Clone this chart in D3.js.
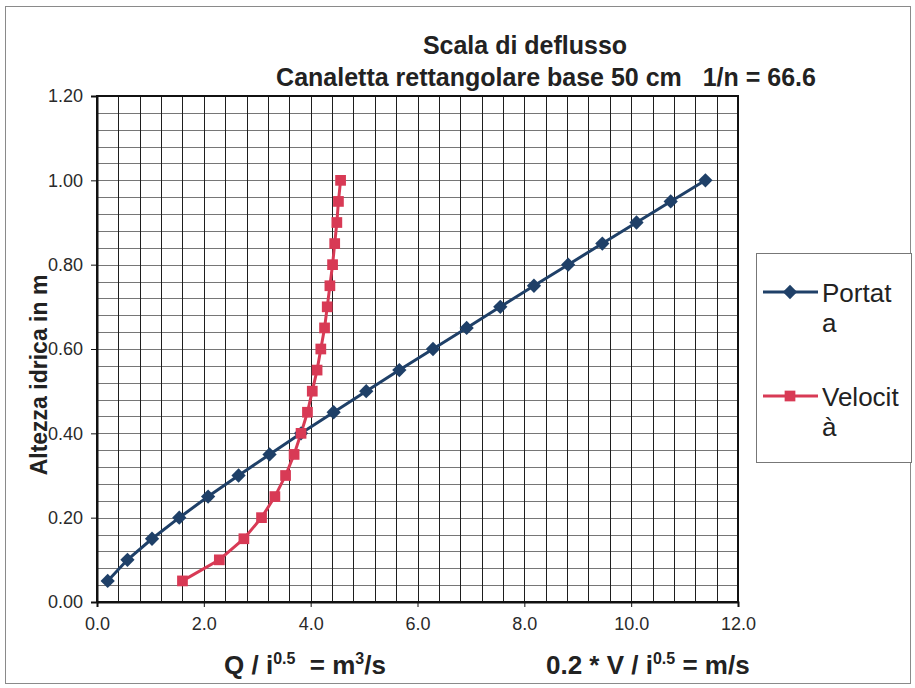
<!DOCTYPE html>
<html>
<head>
<meta charset="utf-8">
<script src="https://cdn.jsdelivr.net/npm/d3@7"></script>
<style>
  body { margin: 0; background: #fff; }
  text { font-family: "Liberation Sans", Arial, sans-serif; }
</style>
</head>
<body>
<svg id="chart" width="915" height="688"></svg>
<script>
// water depth (m)
const altezze = [0.05, 0.10, 0.15, 0.20, 0.25, 0.30, 0.35, 0.40, 0.45, 0.50,
                 0.55, 0.60, 0.65, 0.70, 0.75, 0.80, 0.85, 0.90, 0.95, 1.00];
// Q / i^0.5
const portata = [0.20, 0.57, 1.03, 1.54, 2.08, 2.65, 3.23, 3.82, 4.43, 5.04,
                 5.66, 6.29, 6.92, 7.55, 8.18, 8.82, 9.46, 10.10, 10.74, 11.39];
// 0.2 * V / i^0.5
const velocita = [1.60, 2.29, 2.75, 3.08, 3.33, 3.53, 3.69, 3.82, 3.94, 4.03,
                  4.12, 4.19, 4.26, 4.31, 4.36, 4.41, 4.45, 4.49, 4.52, 4.56];

const xTicks = [0, 2, 4, 6, 8, 10, 12];
const yTicks = [0, 0.2, 0.4, 0.6, 0.8, 1.0, 1.2];
const seriesNames = ["Portat\na", "Velocit\nà"];

const svg = d3.select("#chart");
const plotLeft = 97, plotRight = 738, plotTop = 96, plotBottom = 602;

const blue = "#1f4068";
const red = "#d83a55";

// outer frame
svg.append("rect")
  .attr("x", 5.5).attr("y", 6.5)
  .attr("width", 905).attr("height", 677)
  .attr("fill", "none")
  .attr("stroke", "#8a8a8a");

const x = d3.scaleLinear().domain([0, 12]).range([plotLeft, plotRight]);
const y = d3.scaleLinear().domain([0, 1.2]).range([plotBottom, plotTop]);

// grid: x every 0.4, y every 0.04
const g = svg.append("g");
g.selectAll(".hgrid")
  .data(d3.range(1, 30))
  .enter().append("line")
  .attr("x1", plotLeft).attr("x2", plotRight)
  .attr("y1", d => Math.round(y(d * 0.04)) + 0.5)
  .attr("y2", d => Math.round(y(d * 0.04)) + 0.5)
  .attr("stroke", "#767676")
  .attr("stroke-width", 1);

g.selectAll(".vgrid")
  .data(d3.range(1, 30))
  .enter().append("line")
  .attr("y1", plotTop).attr("y2", plotBottom)
  .attr("x1", d => Math.round(x(d * 0.4)) + 0.5)
  .attr("x2", d => Math.round(x(d * 0.4)) + 0.5)
  .attr("stroke", "#1e1e1e")
  .attr("stroke-width", 1);

// plot frame
svg.append("rect")
  .attr("x", plotLeft).attr("y", plotTop)
  .attr("width", plotRight - plotLeft).attr("height", plotBottom - plotTop)
  .attr("fill", "none")
  .attr("stroke", "#111")
  .attr("stroke-width", 2);

// axes
const xAxis = d3.axisBottom(x)
  .tickValues(xTicks)
  .tickFormat(d3.format(".1f"))
  .tickSize(5)
  .tickPadding(10);

const yAxis = d3.axisLeft(y)
  .tickValues(yTicks)
  .tickFormat(d3.format(".2f"))
  .tickSize(6)
  .tickPadding(8);

const gx = svg.append("g")
  .attr("transform", "translate(0," + plotBottom + ")")
  .call(xAxis);
const gy = svg.append("g")
  .attr("transform", "translate(" + plotLeft + ",0)")
  .call(yAxis);

[gx, gy].forEach(a => {
  a.select(".domain").attr("stroke", "#111").attr("stroke-width", 2);
  a.selectAll(".tick line").attr("stroke", "#111");
  a.selectAll(".tick text")
    .attr("fill", "#2a2a2a")
    .style("font-size", "18px")
    .style("font-family", "'Liberation Sans', Arial, sans-serif");
});

// series
const line = d3.line()
  .x(d => x(d[0]))
  .y(d => y(d[1]));

const portataPts = d3.zip(portata, altezze);
const velocitaPts = d3.zip(velocita, altezze);

svg.append("path")
  .datum(portataPts)
  .attr("fill", "none")
  .attr("stroke", blue)
  .attr("stroke-width", 3)
  .attr("d", line);

svg.append("path")
  .datum(velocitaPts)
  .attr("fill", "none")
  .attr("stroke", red)
  .attr("stroke-width", 3)
  .attr("d", line);

const diamond = d3.symbol().type(d3.symbolDiamond2).size(130);
const square = d3.symbol().type(d3.symbolSquare).size(115);

svg.selectAll(".pt-portata")
  .data(portataPts)
  .enter().append("path")
  .attr("transform", d => "translate(" + x(d[0]) + "," + y(d[1]) + ")")
  .attr("d", diamond())
  .attr("fill", blue);

svg.selectAll(".pt-velocita")
  .data(velocitaPts)
  .enter().append("path")
  .attr("transform", d => "translate(" + x(d[0]) + "," + y(d[1]) + ")")
  .attr("d", square())
  .attr("fill", red);

// titles
svg.append("text")
  .attr("x", 525).attr("y", 54)
  .attr("text-anchor", "middle")
  .style("font-size", "25px").style("font-weight", "bold")
  .attr("fill", "#222")
  .text("Scala di deflusso");

svg.append("text")
  .attr("x", 546).attr("y", 86)
  .attr("text-anchor", "middle")
  .style("font-size", "25px").style("font-weight", "bold")
  .style("white-space", "pre")
  .attr("fill", "#222")
  .text("Canaletta rettangolare base 50 cm   1/n = 66.6");

svg.append("text")
  .attr("transform", "translate(47,375) rotate(-90)")
  .attr("text-anchor", "middle")
  .style("font-size", "23px").style("font-weight", "bold")
  .attr("fill", "#222")
  .text("Altezza idrica in m");

// x axis titles with superscripts
function axisTitle(xPos, parts) {
  const t = svg.append("text")
    .attr("x", xPos).attr("y", 674)
    .style("font-size", "26px").style("font-weight", "bold")
    .style("white-space", "pre")
    .attr("fill", "#222");
  let raised = false;
  parts.forEach(p => {
    let dy = 0;
    if (p.sup && !raised) { dy = -10; raised = true; }
    if (!p.sup && raised) { dy = 10; raised = false; }
    t.append("tspan")
      .attr("dy", dy)
      .style("font-size", p.sup ? "16px" : "26px")
      .text(p.s);
  });
}
axisTitle(224, [{s: "Q / i"}, {s: "0.5", sup: true}, {s: "  = m"}, {s: "3", sup: true}, {s: "/s"}]);
axisTitle(546, [{s: "0.2 * V / i"}, {s: "0.5", sup: true}, {s: " = m/s"}]);

// legend
svg.append("rect")
  .attr("x", 756.5).attr("y", 253.5)
  .attr("width", 155).attr("height", 209)
  .attr("fill", "#fff")
  .attr("stroke", "#777");

const legend = svg.selectAll(".legend")
  .data([{name: seriesNames[0], color: blue, sym: diamond, y: 292},
         {name: seriesNames[1], color: red, sym: square, y: 396}])
  .enter().append("g");

legend.append("line")
  .attr("x1", 763).attr("x2", 818)
  .attr("y1", d => d.y).attr("y2", d => d.y)
  .attr("stroke", d => d.color)
  .attr("stroke-width", 3);

legend.append("path")
  .attr("transform", d => "translate(790," + d.y + ")")
  .attr("d", d => d.sym())
  .attr("fill", d => d.color);

legend.each(function(d) {
  const lines = d.name.split("\n");
  const t = d3.select(this).append("text")
    .attr("x", 822).attr("y", d.y + 10)
    .style("font-size", "26px")
    .attr("fill", "#222");
  lines.forEach((s, i) => {
    t.append("tspan").attr("x", 822).attr("dy", i === 0 ? 0 : 30).text(s);
  });
});
</script>
</body>
</html>
